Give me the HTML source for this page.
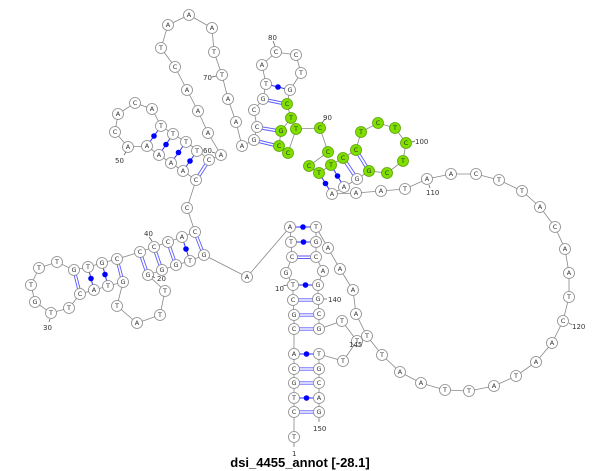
<!DOCTYPE html>
<html><head><meta charset="utf-8"><style>
html,body{margin:0;padding:0;background:#fff;}
svg{display:block;}
.n circle{fill:#fff;stroke:#8a8a8a;stroke-width:0.8;}
.n.g circle{fill:#7fe000;stroke:#5aa000;}
.n text{font-family:"DejaVu Sans","Liberation Sans",sans-serif;font-size:6.5px;fill:#333;text-anchor:middle;dominant-baseline:central;}
.lb{font-family:"DejaVu Sans","Liberation Sans",sans-serif;font-size:7px;fill:#333;}
.bb{fill:none;stroke:#888;stroke-width:0.8;}
.pd line{stroke:#5a5aff;stroke-width:0.9;}
.ps line{stroke:#3030ff;stroke-width:1;}
.ps circle{fill:#0000ff;}
</style></head><body>
<svg width="600" height="471" viewBox="0 0 600 471" xmlns="http://www.w3.org/2000/svg">
<polyline class="bb" points="294,437 294,412 294,398 294,383 294,369 294,354 294,329 294,315 293,300 293,285 286,273 292,257 291,242 290,227 247,277 204,255 190,261 176,265 162,270 148,275 165,291 160,315 137,323 117,306 123,282 108,286 94,290 80,294 69,308 51,313 35,302 31,285 39,268 57,262 74,270 88,267 102,263 117,259 140,252 154,247 168,242 182,237 195,232 187,208 196,180 183,171 171,163 159,155 147,146 128,147 115,132 118,114 135,103 152,109 161,126 173,134 186,142 197,150 209,160 221,155 208,133 198,111 187,90 175,67 161,48 168,25 189,15 212,28 214,52 222,75 228,99 236,122 242,146 254,140 257,127 254,110 263,99 266,84 262,65 276,52 296,55 301,73 290,90 287,104 291,118 281,131 279,146 288,153 296,129 320,128 328,152 309,166 319,173 331,165 343,158 356,150 361,132 378,123 395,128 406,143 403,161 387,173 369,171 357,179 344,187 332,194 356,193 381,191 405,189 427,179 451,174 476,174 499,180 522,191 540,207 555,227 565,249 569,273 569,297 563,321 552,343 536,362 516,376 494,386 469,391 445,390 421,383 400,372 382,355 367,336 356,314 353,290 340,269 328,248 316,227 316,242 316,257 323,271 318,285 318,299 319,314 319,329 342,321 357,341 343,361 319,354 319,369 319,383 319,398 319,412"/>
<!-- double pairs -->
<g class="pd">
<line x1="292" y1="256" x2="316" y2="256"/><line x1="292" y1="258.5" x2="316" y2="258.5"/>
<line x1="293" y1="298.8" x2="318" y2="298.8"/><line x1="293" y1="301.2" x2="318" y2="301.2"/>
<line x1="294" y1="313.8" x2="319" y2="313.8"/><line x1="294" y1="316.2" x2="319" y2="316.2"/>
<line x1="294" y1="327.8" x2="319" y2="327.8"/><line x1="294" y1="330.2" x2="319" y2="330.2"/>
<line x1="294" y1="367.8" x2="319" y2="367.8"/><line x1="294" y1="370.2" x2="319" y2="370.2"/>
<line x1="294" y1="381.8" x2="319" y2="381.8"/><line x1="294" y1="384.2" x2="319" y2="384.2"/>
<line x1="294" y1="410.8" x2="319" y2="410.8"/><line x1="294" y1="413.2" x2="319" y2="413.2"/>
<line x1="196.2" y1="232" x2="205.2" y2="255"/><line x1="193.8" y1="233" x2="202.8" y2="256"/>
<line x1="169.2" y1="242" x2="177.2" y2="265"/><line x1="166.8" y1="243" x2="174.8" y2="266"/>
<line x1="155.2" y1="247" x2="163.2" y2="270"/><line x1="152.8" y1="248" x2="160.8" y2="271"/>
<line x1="141.2" y1="252" x2="149.2" y2="275"/><line x1="138.8" y1="253" x2="146.8" y2="276"/>
<line x1="118.2" y1="259" x2="124.2" y2="282"/><line x1="115.8" y1="259" x2="121.8" y2="283"/>
<line x1="75.2" y1="270" x2="81.2" y2="293"/><line x1="72.8" y1="270" x2="78.8" y2="294"/>
<line x1="197" y1="181" x2="210" y2="161"/><line x1="195" y1="179" x2="208" y2="159"/>
<line x1="254" y1="139" x2="279" y2="145"/><line x1="254" y1="141.5" x2="279" y2="147.5"/>
<line x1="257" y1="126" x2="281" y2="130"/><line x1="257" y1="128.5" x2="281" y2="132.5"/>
<line x1="263" y1="98" x2="287" y2="103"/><line x1="263" y1="100.5" x2="287" y2="105.5"/>
<line x1="344" y1="157" x2="358" y2="178"/><line x1="342" y1="159" x2="356" y2="180"/>
<line x1="357" y1="149" x2="370" y2="170"/><line x1="355" y1="151" x2="368" y2="172"/>
</g>
<g class="ps">
<line x1="290" y1="227" x2="316" y2="227"/><circle cx="303" cy="227" r="2.8"/>
<line x1="291" y1="242" x2="316" y2="242"/><circle cx="303.5" cy="242" r="2.8"/>
<line x1="293" y1="285" x2="318" y2="285"/><circle cx="305.5" cy="285" r="2.8"/>
<line x1="294" y1="354" x2="319" y2="354"/><circle cx="306.5" cy="354" r="2.8"/>
<line x1="294" y1="398" x2="319" y2="398"/><circle cx="306.5" cy="398" r="2.8"/>
<line x1="182" y1="237" x2="190" y2="261"/><circle cx="186" cy="249" r="2.8"/>
<line x1="102" y1="263" x2="108" y2="286"/><circle cx="105" cy="274.5" r="2.8"/>
<line x1="88" y1="267" x2="94" y2="290"/><circle cx="91" cy="278.5" r="2.8"/>
<line x1="161" y1="126" x2="147" y2="146"/><circle cx="154" cy="136" r="2.8"/>
<line x1="173" y1="134" x2="159" y2="155"/><circle cx="166" cy="144.5" r="2.8"/>
<line x1="186" y1="142" x2="171" y2="163"/><circle cx="178.5" cy="152.5" r="2.8"/>
<line x1="197" y1="151" x2="183" y2="171"/><circle cx="190" cy="161" r="2.8"/>
<line x1="266" y1="84" x2="290" y2="90"/><circle cx="278" cy="87" r="2.8"/>
<line x1="319" y1="173" x2="332" y2="194"/><circle cx="325.5" cy="183.5" r="2.8"/>
<line x1="331" y1="165" x2="344" y2="187"/><circle cx="337.5" cy="176" r="2.8"/>
</g>
<g id="nodes">
<g class="n"><circle cx="294" cy="437" r="5.5"/><text x="294" y="437">T</text></g>
<g class="n"><circle cx="294" cy="412" r="5.5"/><text x="294" y="412">C</text></g>
<g class="n"><circle cx="294" cy="398" r="5.5"/><text x="294" y="398">T</text></g>
<g class="n"><circle cx="294" cy="383" r="5.5"/><text x="294" y="383">G</text></g>
<g class="n"><circle cx="294" cy="369" r="5.5"/><text x="294" y="369">C</text></g>
<g class="n"><circle cx="294" cy="354" r="5.5"/><text x="294" y="354">A</text></g>
<g class="n"><circle cx="294" cy="329" r="5.5"/><text x="294" y="329">C</text></g>
<g class="n"><circle cx="294" cy="315" r="5.5"/><text x="294" y="315">G</text></g>
<g class="n"><circle cx="293" cy="300" r="5.5"/><text x="293" y="300">C</text></g>
<g class="n"><circle cx="293" cy="285" r="5.5"/><text x="293" y="285">T</text></g>
<g class="n"><circle cx="286" cy="273" r="5.5"/><text x="286" y="273">G</text></g>
<g class="n"><circle cx="292" cy="257" r="5.5"/><text x="292" y="257">C</text></g>
<g class="n"><circle cx="291" cy="242" r="5.5"/><text x="291" y="242">T</text></g>
<g class="n"><circle cx="290" cy="227" r="5.5"/><text x="290" y="227">A</text></g>
<g class="n"><circle cx="247" cy="277" r="5.5"/><text x="247" y="277">A</text></g>
<g class="n"><circle cx="204" cy="255" r="5.5"/><text x="204" y="255">G</text></g>
<g class="n"><circle cx="190" cy="261" r="5.5"/><text x="190" y="261">T</text></g>
<g class="n"><circle cx="176" cy="265" r="5.5"/><text x="176" y="265">G</text></g>
<g class="n"><circle cx="162" cy="270" r="5.5"/><text x="162" y="270">G</text></g>
<g class="n"><circle cx="148" cy="275" r="5.5"/><text x="148" y="275">G</text></g>
<g class="n"><circle cx="165" cy="291" r="5.5"/><text x="165" y="291">T</text></g>
<g class="n"><circle cx="160" cy="315" r="5.5"/><text x="160" y="315">T</text></g>
<g class="n"><circle cx="137" cy="323" r="5.5"/><text x="137" y="323">A</text></g>
<g class="n"><circle cx="117" cy="306" r="5.5"/><text x="117" y="306">T</text></g>
<g class="n"><circle cx="123" cy="282" r="5.5"/><text x="123" y="282">G</text></g>
<g class="n"><circle cx="108" cy="286" r="5.5"/><text x="108" y="286">T</text></g>
<g class="n"><circle cx="94" cy="290" r="5.5"/><text x="94" y="290">A</text></g>
<g class="n"><circle cx="80" cy="294" r="5.5"/><text x="80" y="294">C</text></g>
<g class="n"><circle cx="69" cy="308" r="5.5"/><text x="69" y="308">T</text></g>
<g class="n"><circle cx="51" cy="313" r="5.5"/><text x="51" y="313">T</text></g>
<g class="n"><circle cx="35" cy="302" r="5.5"/><text x="35" y="302">G</text></g>
<g class="n"><circle cx="31" cy="285" r="5.5"/><text x="31" y="285">T</text></g>
<g class="n"><circle cx="39" cy="268" r="5.5"/><text x="39" y="268">T</text></g>
<g class="n"><circle cx="57" cy="262" r="5.5"/><text x="57" y="262">T</text></g>
<g class="n"><circle cx="74" cy="270" r="5.5"/><text x="74" y="270">G</text></g>
<g class="n"><circle cx="88" cy="267" r="5.5"/><text x="88" y="267">T</text></g>
<g class="n"><circle cx="102" cy="263" r="5.5"/><text x="102" y="263">G</text></g>
<g class="n"><circle cx="117" cy="259" r="5.5"/><text x="117" y="259">C</text></g>
<g class="n"><circle cx="140" cy="252" r="5.5"/><text x="140" y="252">C</text></g>
<g class="n"><circle cx="154" cy="247" r="5.5"/><text x="154" y="247">C</text></g>
<g class="n"><circle cx="168" cy="242" r="5.5"/><text x="168" y="242">C</text></g>
<g class="n"><circle cx="182" cy="237" r="5.5"/><text x="182" y="237">A</text></g>
<g class="n"><circle cx="195" cy="232" r="5.5"/><text x="195" y="232">C</text></g>
<g class="n"><circle cx="187" cy="208" r="5.5"/><text x="187" y="208">C</text></g>
<g class="n"><circle cx="196" cy="180" r="5.5"/><text x="196" y="180">C</text></g>
<g class="n"><circle cx="183" cy="171" r="5.5"/><text x="183" y="171">A</text></g>
<g class="n"><circle cx="171" cy="163" r="5.5"/><text x="171" y="163">A</text></g>
<g class="n"><circle cx="159" cy="155" r="5.5"/><text x="159" y="155">A</text></g>
<g class="n"><circle cx="147" cy="146" r="5.5"/><text x="147" y="146">A</text></g>
<g class="n"><circle cx="128" cy="147" r="5.5"/><text x="128" y="147">A</text></g>
<g class="n"><circle cx="115" cy="132" r="5.5"/><text x="115" y="132">C</text></g>
<g class="n"><circle cx="118" cy="114" r="5.5"/><text x="118" y="114">A</text></g>
<g class="n"><circle cx="135" cy="103" r="5.5"/><text x="135" y="103">C</text></g>
<g class="n"><circle cx="152" cy="109" r="5.5"/><text x="152" y="109">A</text></g>
<g class="n"><circle cx="161" cy="126" r="5.5"/><text x="161" y="126">T</text></g>
<g class="n"><circle cx="173" cy="134" r="5.5"/><text x="173" y="134">T</text></g>
<g class="n"><circle cx="186" cy="142" r="5.5"/><text x="186" y="142">T</text></g>
<g class="n"><circle cx="197" cy="151" r="5.5"/><text x="197" y="151">T</text></g>
<g class="n"><circle cx="209" cy="160" r="5.5"/><text x="209" y="160">C</text></g>
<g class="n"><circle cx="221" cy="155" r="5.5"/><text x="221" y="155">A</text></g>
<g class="n"><circle cx="208" cy="133" r="5.5"/><text x="208" y="133">A</text></g>
<g class="n"><circle cx="198" cy="111" r="5.5"/><text x="198" y="111">A</text></g>
<g class="n"><circle cx="187" cy="90" r="5.5"/><text x="187" y="90">A</text></g>
<g class="n"><circle cx="175" cy="67" r="5.5"/><text x="175" y="67">C</text></g>
<g class="n"><circle cx="161" cy="48" r="5.5"/><text x="161" y="48">T</text></g>
<g class="n"><circle cx="168" cy="25" r="5.5"/><text x="168" y="25">A</text></g>
<g class="n"><circle cx="189" cy="15" r="5.5"/><text x="189" y="15">A</text></g>
<g class="n"><circle cx="212" cy="28" r="5.5"/><text x="212" y="28">A</text></g>
<g class="n"><circle cx="214" cy="52" r="5.5"/><text x="214" y="52">T</text></g>
<g class="n"><circle cx="222" cy="75" r="5.5"/><text x="222" y="75">T</text></g>
<g class="n"><circle cx="228" cy="99" r="5.5"/><text x="228" y="99">A</text></g>
<g class="n"><circle cx="236" cy="122" r="5.5"/><text x="236" y="122">A</text></g>
<g class="n"><circle cx="242" cy="146" r="5.5"/><text x="242" y="146">A</text></g>
<g class="n"><circle cx="254" cy="140" r="5.5"/><text x="254" y="140">G</text></g>
<g class="n"><circle cx="257" cy="127" r="5.5"/><text x="257" y="127">C</text></g>
<g class="n"><circle cx="254" cy="110" r="5.5"/><text x="254" y="110">C</text></g>
<g class="n"><circle cx="263" cy="99" r="5.5"/><text x="263" y="99">G</text></g>
<g class="n"><circle cx="266" cy="84" r="5.5"/><text x="266" y="84">T</text></g>
<g class="n"><circle cx="262" cy="65" r="5.5"/><text x="262" y="65">A</text></g>
<g class="n"><circle cx="276" cy="52" r="5.5"/><text x="276" y="52">C</text></g>
<g class="n"><circle cx="296" cy="55" r="5.5"/><text x="296" y="55">C</text></g>
<g class="n"><circle cx="301" cy="73" r="5.5"/><text x="301" y="73">T</text></g>
<g class="n"><circle cx="290" cy="90" r="5.5"/><text x="290" y="90">G</text></g>
<g class="n g"><circle cx="287" cy="104" r="5.5"/><text x="287" y="104">C</text></g>
<g class="n g"><circle cx="291" cy="118" r="5.5"/><text x="291" y="118">T</text></g>
<g class="n g"><circle cx="281" cy="131" r="5.5"/><text x="281" y="131">G</text></g>
<g class="n g"><circle cx="279" cy="146" r="5.5"/><text x="279" y="146">C</text></g>
<g class="n g"><circle cx="288" cy="153" r="5.5"/><text x="288" y="153">C</text></g>
<g class="n g"><circle cx="296" cy="129" r="5.5"/><text x="296" y="129">T</text></g>
<g class="n g"><circle cx="320" cy="128" r="5.5"/><text x="320" y="128">C</text></g>
<g class="n g"><circle cx="328" cy="152" r="5.5"/><text x="328" y="152">C</text></g>
<g class="n g"><circle cx="309" cy="166" r="5.5"/><text x="309" y="166">C</text></g>
<g class="n g"><circle cx="319" cy="173" r="5.5"/><text x="319" y="173">T</text></g>
<g class="n g"><circle cx="331" cy="165" r="5.5"/><text x="331" y="165">T</text></g>
<g class="n g"><circle cx="343" cy="158" r="5.5"/><text x="343" y="158">C</text></g>
<g class="n g"><circle cx="356" cy="150" r="5.5"/><text x="356" y="150">C</text></g>
<g class="n g"><circle cx="361" cy="132" r="5.5"/><text x="361" y="132">T</text></g>
<g class="n g"><circle cx="378" cy="123" r="5.5"/><text x="378" y="123">C</text></g>
<g class="n g"><circle cx="395" cy="128" r="5.5"/><text x="395" y="128">T</text></g>
<g class="n g"><circle cx="406" cy="143" r="5.5"/><text x="406" y="143">C</text></g>
<g class="n g"><circle cx="403" cy="161" r="5.5"/><text x="403" y="161">T</text></g>
<g class="n g"><circle cx="387" cy="173" r="5.5"/><text x="387" y="173">C</text></g>
<g class="n g"><circle cx="369" cy="171" r="5.5"/><text x="369" y="171">G</text></g>
<g class="n"><circle cx="357" cy="179" r="5.5"/><text x="357" y="179">G</text></g>
<g class="n"><circle cx="344" cy="187" r="5.5"/><text x="344" y="187">A</text></g>
<g class="n"><circle cx="332" cy="194" r="5.5"/><text x="332" y="194">A</text></g>
<g class="n"><circle cx="356" cy="193" r="5.5"/><text x="356" y="193">A</text></g>
<g class="n"><circle cx="381" cy="191" r="5.5"/><text x="381" y="191">A</text></g>
<g class="n"><circle cx="405" cy="189" r="5.5"/><text x="405" y="189">T</text></g>
<g class="n"><circle cx="427" cy="179" r="5.5"/><text x="427" y="179">A</text></g>
<g class="n"><circle cx="451" cy="174" r="5.5"/><text x="451" y="174">A</text></g>
<g class="n"><circle cx="476" cy="174" r="5.5"/><text x="476" y="174">C</text></g>
<g class="n"><circle cx="499" cy="180" r="5.5"/><text x="499" y="180">T</text></g>
<g class="n"><circle cx="522" cy="191" r="5.5"/><text x="522" y="191">T</text></g>
<g class="n"><circle cx="540" cy="207" r="5.5"/><text x="540" y="207">A</text></g>
<g class="n"><circle cx="555" cy="227" r="5.5"/><text x="555" y="227">C</text></g>
<g class="n"><circle cx="565" cy="249" r="5.5"/><text x="565" y="249">A</text></g>
<g class="n"><circle cx="569" cy="273" r="5.5"/><text x="569" y="273">A</text></g>
<g class="n"><circle cx="569" cy="297" r="5.5"/><text x="569" y="297">T</text></g>
<g class="n"><circle cx="563" cy="321" r="5.5"/><text x="563" y="321">C</text></g>
<g class="n"><circle cx="552" cy="343" r="5.5"/><text x="552" y="343">A</text></g>
<g class="n"><circle cx="536" cy="362" r="5.5"/><text x="536" y="362">A</text></g>
<g class="n"><circle cx="516" cy="376" r="5.5"/><text x="516" y="376">T</text></g>
<g class="n"><circle cx="494" cy="386" r="5.5"/><text x="494" y="386">A</text></g>
<g class="n"><circle cx="469" cy="391" r="5.5"/><text x="469" y="391">T</text></g>
<g class="n"><circle cx="445" cy="390" r="5.5"/><text x="445" y="390">T</text></g>
<g class="n"><circle cx="421" cy="383" r="5.5"/><text x="421" y="383">A</text></g>
<g class="n"><circle cx="400" cy="372" r="5.5"/><text x="400" y="372">A</text></g>
<g class="n"><circle cx="382" cy="355" r="5.5"/><text x="382" y="355">T</text></g>
<g class="n"><circle cx="367" cy="336" r="5.5"/><text x="367" y="336">T</text></g>
<g class="n"><circle cx="356" cy="314" r="5.5"/><text x="356" y="314">A</text></g>
<g class="n"><circle cx="353" cy="290" r="5.5"/><text x="353" y="290">A</text></g>
<g class="n"><circle cx="340" cy="269" r="5.5"/><text x="340" y="269">A</text></g>
<g class="n"><circle cx="328" cy="248" r="5.5"/><text x="328" y="248">A</text></g>
<g class="n"><circle cx="316" cy="227" r="5.5"/><text x="316" y="227">T</text></g>
<g class="n"><circle cx="316" cy="242" r="5.5"/><text x="316" y="242">G</text></g>
<g class="n"><circle cx="316" cy="257" r="5.5"/><text x="316" y="257">C</text></g>
<g class="n"><circle cx="323" cy="271" r="5.5"/><text x="323" y="271">A</text></g>
<g class="n"><circle cx="318" cy="285" r="5.5"/><text x="318" y="285">G</text></g>
<g class="n"><circle cx="318" cy="299" r="5.5"/><text x="318" y="299">G</text></g>
<g class="n"><circle cx="319" cy="314" r="5.5"/><text x="319" y="314">C</text></g>
<g class="n"><circle cx="319" cy="329" r="5.5"/><text x="319" y="329">G</text></g>
<g class="n"><circle cx="342" cy="321" r="5.5"/><text x="342" y="321">T</text></g>
<g class="n"><circle cx="357" cy="341" r="5.5"/><text x="357" y="341">T</text></g>
<g class="n"><circle cx="343" cy="361" r="5.5"/><text x="343" y="361">T</text></g>
<g class="n"><circle cx="319" cy="354" r="5.5"/><text x="319" y="354">T</text></g>
<g class="n"><circle cx="319" cy="369" r="5.5"/><text x="319" y="369">G</text></g>
<g class="n"><circle cx="319" cy="383" r="5.5"/><text x="319" y="383">C</text></g>
<g class="n"><circle cx="319" cy="398" r="5.5"/><text x="319" y="398">A</text></g>
<g class="n"><circle cx="319" cy="412" r="5.5"/><text x="319" y="412">G</text></g>
</g>
<!-- number labels -->
<g stroke="#555" stroke-width="0.7">
<line x1="294" y1="443" x2="294" y2="447"/>
<line x1="283" y1="286" x2="287" y2="285"/>
<line x1="155" y1="278" x2="152" y2="276"/>
<line x1="50" y1="319" x2="49" y2="322"/>
<line x1="149" y1="237" x2="152" y2="241"/>
<line x1="124" y1="155" x2="126" y2="152"/>
<line x1="212" y1="152" x2="215" y2="153"/>
<line x1="212" y1="77" x2="216" y2="76"/>
<line x1="273" y1="41" x2="275" y2="46"/>
<line x1="325" y1="119" x2="322" y2="123"/>
<line x1="412" y1="142" x2="415" y2="141"/>
<line x1="429" y1="185" x2="430" y2="188"/>
<line x1="569" y1="323" x2="572" y2="325"/>
<line x1="324" y1="299" x2="327" y2="299"/>
<line x1="319" y1="418" x2="319" y2="422"/>
</g>
<text class="lb" x="292" y="456">1</text>
<text class="lb" x="275" y="291">10</text>
<text class="lb" x="157" y="281">20</text>
<text class="lb" x="43" y="330">30</text>
<text class="lb" x="144" y="236">40</text>
<text class="lb" x="115" y="163">50</text>
<text class="lb" x="203" y="153">60</text>
<text class="lb" x="203" y="80">70</text>
<text class="lb" x="268" y="40">80</text>
<text class="lb" x="323" y="120">90</text>
<text class="lb" x="415" y="144">100</text>
<text class="lb" x="426" y="195">110</text>
<text class="lb" x="572" y="329">120</text>
<text class="lb" x="328" y="302">140</text>
<text class="lb" x="349" y="347">145</text>
<text class="lb" x="313" y="431">150</text>
<text x="300" y="467" text-anchor="middle" font-family="Liberation Sans, sans-serif" font-size="13" font-weight="bold" fill="#000">dsi_4455_annot [-28.1]</text>
</svg>
</body></html>
